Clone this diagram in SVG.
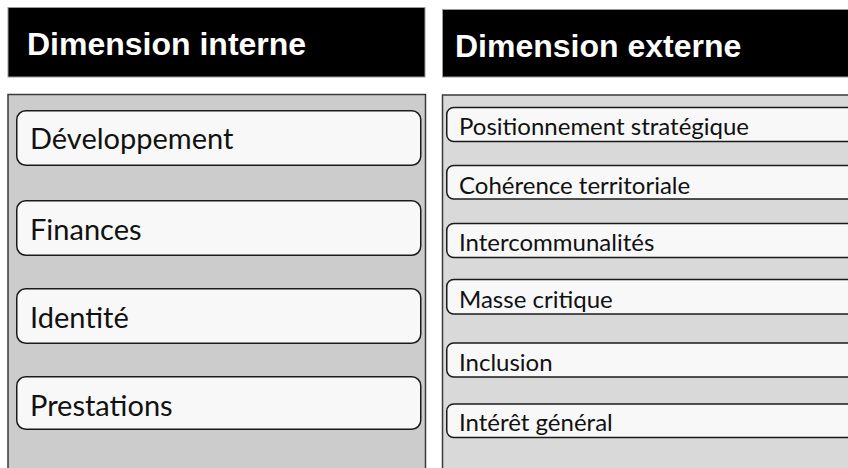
<svg xmlns="http://www.w3.org/2000/svg" width="848" height="468" viewBox="0 0 848 468">
  <style>
    .hdr { fill: #000000; stroke: #9a9a9a; stroke-width: 1; }
    .hdrtxt { font-family: "Liberation Sans", Arial, sans-serif; font-weight: bold; font-size: 32px; fill: #ffffff; }
    .panelL { fill: #cccccc; stroke: #3a3a3a; stroke-width: 1.5; }
    .panelR { fill: #d9d9d9; stroke: #3a3a3a; stroke-width: 1.5; }
    .box { fill: #f8f8f8; stroke: #1a1a1a; stroke-width: 1.5; }
    .txtL { font-family: Lato, "Open Sans", sans-serif; font-size: 29px; fill: #111111; }
    .txtR { font-family: Lato, "Open Sans", sans-serif; font-size: 24px; fill: #111111; }
  </style>
  <rect width="848" height="468" fill="#ffffff"/>

  <g id="header-interne">
    <rect class="hdr" x="8" y="7.5" width="417" height="69.5"/>
    <text class="hdrtxt" x="27" y="55">Dimension interne</text>
  </g>
  <g id="header-externe">
    <rect class="hdr" x="442.5" y="9.5" width="410" height="67.5"/>
    <text class="hdrtxt" x="455" y="56.5">Dimension externe</text>
  </g>

  <g id="panel-interne">
    <rect class="panelL" x="8" y="94.5" width="417.5" height="380"/>
  </g>
  <g id="panel-externe">
    <rect class="panelR" x="442.5" y="95" width="410" height="380"/>
  </g>

  <g id="node-developpement">
    <rect class="box" x="16.75" y="110.75" width="404" height="54.5" rx="9"/>
    <text class="txtL" x="30" y="149">Développement</text>
  </g>
  <g id="node-finances">
    <rect class="box" x="16.75" y="200.75" width="404" height="54.5" rx="9"/>
    <text class="txtL" x="30" y="239.5">Finances</text>
  </g>
  <g id="node-identite">
    <rect class="box" x="16.75" y="288.75" width="404" height="54.5" rx="9"/>
    <text class="txtL" x="30" y="328">Identité</text>
  </g>
  <g id="node-prestations">
    <rect class="box" x="16.75" y="376.75" width="404" height="52.5" rx="9"/>
    <text class="txtL" x="30" y="416">Prestations</text>
  </g>

  <g id="node-positionnement">
    <rect class="box" x="446.75" y="107.5" width="420" height="34" rx="7"/>
    <text class="txtR" x="459" y="135">Positionnement stratégique</text>
  </g>
  <g id="node-coherence">
    <rect class="box" x="446.75" y="165.5" width="420" height="33.5" rx="7"/>
    <text class="txtR" x="459" y="193.5">Cohérence territoriale</text>
  </g>
  <g id="node-intercommunalites">
    <rect class="box" x="446.75" y="223.5" width="420" height="34" rx="7"/>
    <text class="txtR" x="459" y="251">Intercommunalités</text>
  </g>
  <g id="node-masse">
    <rect class="box" x="446.75" y="279.5" width="420" height="34.5" rx="7"/>
    <text class="txtR" x="459" y="307.5">Masse critique</text>
  </g>
  <g id="node-inclusion">
    <rect class="box" x="446.75" y="343" width="420" height="34" rx="7"/>
    <text class="txtR" x="459" y="371">Inclusion</text>
  </g>
  <g id="node-interet">
    <rect class="box" x="446.75" y="404" width="420" height="33.5" rx="7"/>
    <text class="txtR" x="459" y="431">Intérêt général</text>
  </g>
</svg>
